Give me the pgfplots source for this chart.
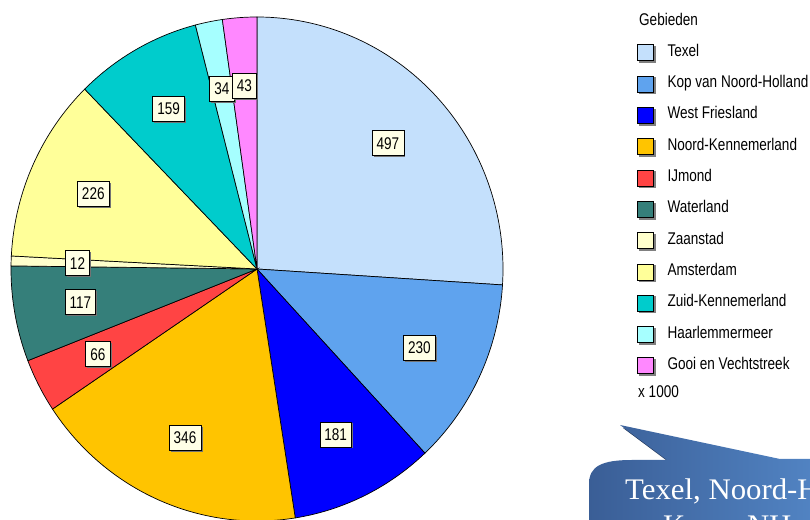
\documentclass[border=0pt]{standalone}
\usepackage{pgfplots}
\pgfplotsset{compat=1.18}
\usepackage{fontspec}
\setmainfont{Liberation Sans}
\newfontfamily\narrowsans[FakeStretch=0.8]{Liberation Sans}
\newfontfamily\bubblefont[FakeStretch=1.03]{Liberation Serif}
\usetikzlibrary{shadows}

\definecolor{cTexel}{HTML}{C4E0FC}
\definecolor{cKop}{HTML}{5FA3EE}
\definecolor{cWest}{HTML}{0000FF}
\definecolor{cNK}{HTML}{FFC400}
\definecolor{cIJ}{HTML}{FF4444}
\definecolor{cWat}{HTML}{357F7A}
\definecolor{cZaan}{HTML}{FFFFCC}
\definecolor{cAms}{HTML}{FFFF99}
\definecolor{cZK}{HTML}{00CCCC}
\definecolor{cHaar}{HTML}{A6FFFF}
\definecolor{cGooi}{HTML}{FF88FF}
\definecolor{labelfill}{HTML}{FFFFE6}
\definecolor{bubbleL}{HTML}{3A5E96}
\definecolor{bubbleR}{HTML}{5386C6}
\definecolor{bubbleS}{HTML}{22385C}

\tikzset{pielabel/.style={draw=black, line width=0.6bp, fill=labelfill,
  inner xsep=4.6bp, inner ysep=0pt, minimum height=25bp,
  font=\narrowsans\fontsize{17}{17}\selectfont, text height=12.2bp, text depth=0pt,
  drop shadow={shadow xshift=1.6bp, shadow yshift=-1.6bp, fill=black!55, opacity=1}}}

\def\PieTotal{1911}
\gdef\PieCum{0}
\gdef\PieLabels{}
\newcommand\PieLabel[2]{\node[pielabel] at (axis cs:{0.73*cos(#1)},{0.73*sin(#1)}) {#2};}
\newcommand\PieSlice[2]{%
  \pgfmathsetmacro\PieA{90-(\PieCum+#1)/\PieTotal*360}%
  \pgfmathsetmacro\PieB{90-\PieCum/\PieTotal*360}%
  \pgfmathsetmacro\PieM{90-(\PieCum+#1/2)/\PieTotal*360}%
  \pgfmathsetmacro\PieNew{\PieCum+#1}%
  \xdef\PieCum{\PieNew}%
  \xdef\PieLabels{\unexpanded\expandafter{\PieLabels}\noexpand\PieLabel{\PieM}{#1}}%
  \edef\PieCmd{\noexpand\addplot[draw=black, line width=0.7bp, samples=90, fill=#2, domain=\PieA:\PieB] ({cos(x)},{sin(x)}) -- (axis cs:0,0) -- cycle;}%
  \PieCmd
}

\begin{document}
\begin{tikzpicture}[x=1bp,y=1bp]
\useasboundingbox (0,0) rectangle (810,520);
\clip (0,0) rectangle (810,520);
\begin{axis}[
  at={(257bp,251bp)}, anchor=center,
  scale only axis, width=492bp, height=504bp,
  xmin=-1, xmax=1, ymin=-1, ymax=1,
  hide axis, clip=false,
  legend image code/.code={
    \fill[black!50] (2bp,-9.5bp) rectangle (18bp,6.5bp);
    \draw[#1, line width=0.8bp] (0bp,-8bp) rectangle (16bp,8bp);
    \path (30bp,0bp);
  },
  legend entries={Texel, Kop van Noord-Holland, West Friesland, Noord-Kennemerland, IJmond, Waterland, Zaanstad, Amsterdam, Zuid-Kennemerland, Haarlemmermeer, Gooi en Vechtstreek},
  legend style={at={(1.2715,0.9459)}, anchor=north west, draw=none, fill=none, inner sep=0pt,
    nodes={inner sep=0pt, text height=10bp, text depth=3bp, font=\narrowsans\fontsize{17}{18}\selectfont},
    row sep=13.05bp, cells={anchor=west}},
]
\PieSlice{497}{cTexel}
\PieSlice{230}{cKop}
\PieSlice{181}{cWest}
\PieSlice{346}{cNK}
\PieSlice{66}{cIJ}
\PieSlice{117}{cWat}
\PieSlice{12}{cZaan}
\PieSlice{226}{cAms}
\PieSlice{159}{cZK}
\PieSlice{34}{cHaar}
\PieSlice{43}{cGooi}
\PieLabels
\end{axis}
\node[anchor=base west, inner sep=0pt, font=\narrowsans\fontsize{17}{18}\selectfont] at (639,494) {Gebieden};
\node[anchor=base west, inner sep=0pt, font=\narrowsans\fontsize{17}{18}\selectfont] at (638,122) {x 1000};
% callout bubble
\fill[bubbleS] (623,92) -- (670,57) -- (783,58) -- cycle;
\path[left color=bubbleL, right color=bubbleR] (589,-30) -- (589,36) .. controls (589,54) and (602,60) .. (632,60) -- (667,60) -- (620,95) -- (780,61) -- (830,61) -- (830,-30) -- cycle;
\node[anchor=base west, inner sep=0pt, text=white, font=\bubblefont\fontsize{30}{36}\selectfont] at (625,20) {Texel, Noord-Holland};
\node[anchor=base west, inner sep=0pt, text=white, font=\bubblefont\fontsize{30}{36}\selectfont] at (663,-16) {Kop v NH};
\end{tikzpicture}
\end{document}
